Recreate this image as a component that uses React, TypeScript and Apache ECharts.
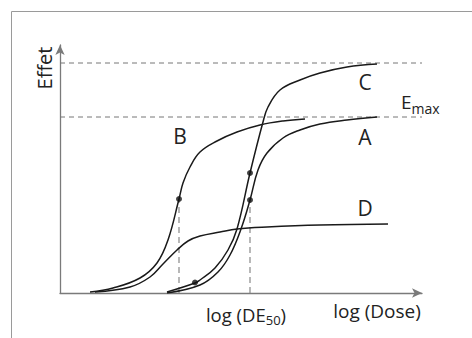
import { useEffect, useRef } from "react";
import * as echarts from "echarts";

// Curves: [log dose offset, effect]
const curveB = [[30, 1], [53, 5], [80, 15], [97, 30], [108, 53], [119, 94], [123, 110], [130, 126], [140, 141], [157, 152], [177, 161], [200, 168], [223, 172], [245, 174]];
const curveC = [[107, 1], [135, 10], [140, 13], [155, 25], [168, 43], [177, 64], [190, 120], [203, 171], [208, 186], [220, 203], [240, 213], [260, 220], [287, 226], [317, 229]];
const curveA = [[107, 0], [140, 8], [158, 21], [170, 38], [181, 64], [190, 93], [198, 123], [207, 140], [223, 155], [240, 163], [260, 169], [287, 173], [317, 176]];
const curveD = [[35, 1], [70, 6], [90, 16], [103, 29], [117, 43], [128, 52], [140, 57], [160, 61], [177, 64], [207, 66], [260, 68], [328, 69]];
const dots = [[119, 94], [190, 120], [190, 93], [135, 10.5]];
const maxLevels = [230, 176];
const de50Lines = [[119, 94], [190, 93]];
const xMax = 362;
const yMax = 248;

const FONT = '"Open Sans", "Noto Sans", sans-serif';

export default function App() {
  const ref = useRef<HTMLDivElement>(null);
  useEffect(() => {
    const chart = echarts.init(ref.current!, null, { renderer: "svg" });
    const curveStyle = { color: "#1a1a1a", width: 1.5 };
    const mk = (name: string, data: number[][]) => ({
      type: "line",
      name,
      data,
      smooth: 0.4,
      symbol: "none",
      showSymbol: false,
      lineStyle: curveStyle,
      z: 4,
      silent: true,
    });
    const axisCommon = {
      type: "value",
      axisLine: {
        show: true,
        onZero: false,
        symbol: ["none", "arrow"],
        symbolSize: [7, 10],
        lineStyle: { color: "#7a7a7a", width: 1.3 },
      },
      axisTick: { show: false },
      axisLabel: { show: false },
      splitLine: { show: false },
    };
    const series: any[] = [
      ...maxLevels.map((lv) => ({
        type: "line",
        data: [[0, lv], [xMax, lv]],
        symbol: "none",
        lineStyle: { color: "#777", width: 1, type: [5, 4] },
        z: 2,
        silent: true,
      })),
      ...de50Lines.map((p) => ({
        type: "line",
        data: [[p[0], 0], [p[0], p[1]]],
        symbol: "none",
        lineStyle: { color: "#888", width: 1.2, type: [6, 4] },
        z: 2,
        silent: true,
      })),
      mk("B", curveB),
      mk("C", curveC),
      mk("A", curveA),
      mk("D", curveD),
      {
        type: "scatter",
        data: dots,
        symbolSize: 6,
        itemStyle: { color: "#111" },
        z: 5,
        silent: true,
      },
    ];
    const txt = (text: string, x: number, y: number, size: number, extra: any = {}) => ({
      type: "text",
      x,
      y,
      silent: true,
      ...extra,
      style: {
        text,
        fontSize: size,
        fontFamily: FONT,
        fill: "#222",
        align: "center",
        verticalAlign: "middle",
        textAlign: "center",
        textVerticalAlign: "middle",
      },
    });
    chart.setOption({
      animation: false,
      grid: { left: 60, right: 50, top: 45, bottom: 45 },
      xAxis: { ...axisCommon, min: 0, max: xMax },
      yAxis: { ...axisCommon, min: 0, max: yMax },
      series,
      graphic: [
        {
          type: "polyline",
          shape: { points: [[11.5, 340], [11.5, 11.5], [472, 11.5]] },
          style: { stroke: "#9a9a9a", lineWidth: 1, fill: "none" },
          silent: true,
        },
        txt("Effet", 44, 68, 20, { rotation: Math.PI / 2 }),
        txt("C", 365, 82, 21),
        txt("A", 365, 137, 21),
        txt("B", 180, 136, 21),
        txt("D", 365, 208, 21),
        txt("log (Dose)", 377, 311, 19),
        {
          type: "text",
          x: 246,
          y: 314,
          silent: true,
          style: {
            text: "{a|log (DE}{s|50}{a|)}",
            fill: "#222",
            align: "center",
            verticalAlign: "middle",
            textAlign: "center",
            textVerticalAlign: "middle",
            rich: {
              a: { fontSize: 18.5, fontFamily: FONT, lineHeight: 24, fill: "#222" },
              s: { fontSize: 13, fontFamily: FONT, height: 12, verticalAlign: "bottom", fill: "#222" },
            },
          },
        },
        {
          type: "text",
          x: 401,
          y: 102,
          silent: true,
          style: {
            text: "{e|E}{s|max}",
            fill: "#222",
            align: "left",
            verticalAlign: "middle",
            textAlign: "left",
            textVerticalAlign: "middle",
            rich: {
              e: { fontSize: 19, fontFamily: FONT, lineHeight: 24, fill: "#222" },
              s: { fontSize: 14, fontFamily: FONT, height: 12, verticalAlign: "bottom", fill: "#222" },
            },
          },
        },
      ],
    });
    return () => chart.dispose();
  }, []);
  return (
    <div
      ref={ref}
      style={{ position: "fixed", left: 0, top: 0, width: 472, height: 338, background: "#fff" }}
    />
  );
}
